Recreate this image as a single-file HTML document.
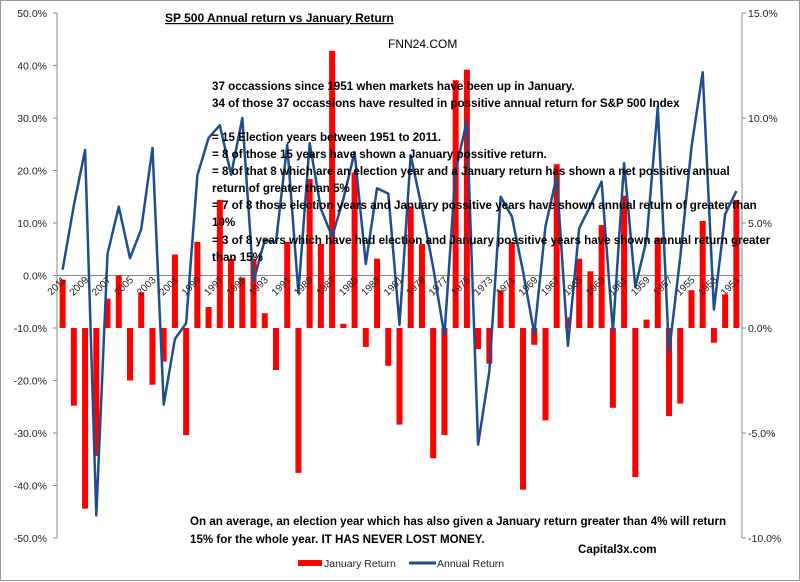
<!DOCTYPE html>
<html><head><meta charset="utf-8"><style>
html,body{margin:0;padding:0;background:#fff;}
svg{display:block;font-family:"Liberation Sans",sans-serif;}
.b{font-weight:bold;font-size:11.6px;fill:#000;}
.t{font-size:10.5px;fill:#222;}
</style></head><body>
<svg id="chart" width="800" height="582" viewBox="0 0 800 582">
<rect x="0.5" y="0.5" width="799" height="580" fill="#fff" stroke="#999"/>
<g id="grid"></g>
<g id="bars"></g>
<g id="line"></g>
<g id="axes"></g>
<text x="165" y="22" class="b" style="font-size:12px;text-decoration:underline">SP 500 Annual return vs January Return</text>
<text x="388" y="48" style="font-size:12px">FNN24.COM</text>
<g class="b">
<text x="212" y="90">37 occassions since 1951 when markets have been up in January.</text>
<text x="212" y="107">34 of those 37 occassions have resulted in possitive annual return for S&amp;P 500 Index</text>
<text x="212" y="141">= 15 Election years between 1951 to 2011.</text>
<text x="212" y="158">= 8 of those 15 years have shown a January possitive return.</text>
<text x="212" y="175">= 8 of that 8 which are an election year and a January return has shown a net possitive annual</text>
<text x="212" y="192">return of greater than 5%</text>
<text x="212" y="209">= 7 of 8 those election years and January possitive years have shown annual return of greater than</text>
<text x="212" y="226">10%</text>
<text x="212" y="244">= 3 of 8 years which have had election and January possitive years have shown annual return greater</text>
<text x="212" y="261">than 15%</text>
</g>
<g class="b">
<text x="190" y="525">On an average, an election year which has also given a January return greater than 4% will return</text>
<text x="190" y="543">15% for the whole year. IT HAS NEVER LOST MONEY.</text>
</g>
<text x="578" y="553" class="b">Capital3x.com</text>
<g>
<rect x="298" y="560" width="24" height="6" fill="#ff0000"/>
<text x="324" y="567" class="t">January Return</text>
<line x1="409" y1="563" x2="436" y2="563" stroke="#1f4e8c" stroke-width="3"/>
<text x="437" y="567" class="t">Annual Return</text>
</g>
</svg>
<script>
const years = [2011,2010,2009,2008,2007,2006,2005,2004,2003,2002,2001,2000,1999,1998,1997,1996,1995,1994,1993,1992,1991,1990,1989,1988,1987,1986,1985,1984,1983,1982,1981,1980,1979,1978,1977,1976,1975,1974,1973,1972,1971,1970,1969,1968,1967,1966,1965,1964,1963,1962,1961,1960,1959,1958,1957,1956,1955,1954,1953,1952,1951];
const januaryReturn = [2.3,-3.7,-8.6,-6.1,1.4,2.5,-2.5,1.7,-2.7,-1.6,3.5,-5.1,4.1,1.0,6.1,3.3,2.4,3.3,0.7,-2.0,4.1,-6.9,7.1,4.0,13.2,0.2,7.4,-0.9,3.3,-1.8,-4.6,5.8,4.0,-6.2,-5.1,11.8,12.3,-1.0,-1.7,1.8,4.1,-7.7,-0.8,-4.4,7.8,0.5,3.3,2.7,4.9,-3.8,6.3,-7.1,0.4,4.3,-4.2,-3.6,1.8,5.1,-0.7,1.6,6.1];
const annualReturn = [1.1,13.3,23.9,-45.7,4.1,13.1,3.3,8.8,24.3,-24.6,-12.1,-9.1,19.1,26.2,28.6,19.2,30.0,-1.1,6.7,6.4,24.9,-3.3,25.2,12.7,7.4,14.6,23.5,2.2,16.6,15.6,-9.4,22.9,12.7,1.5,-11.4,19.9,29.5,-32.2,-18.3,15.0,11.3,0.8,-11.1,9.4,18.9,-13.4,9.0,13.3,17.9,-10.7,21.4,-2.2,6.7,32.1,-14.7,3.4,24.5,38.7,-6.5,11.7,16.1];
const leftTicks = [50,40,30,20,10,0,-10,-20,-30,-40,-50];
const rightTicks = [15,10,5,0,-5,-10];

const NS="http://www.w3.org/2000/svg";
const X0=57, X1=742, TOP=13, BOT=538;
const step=(X1-X0)/years.length;
function xC(i){return X0+step*(i+0.5);}
function yL(v){return TOP+(50-v)/100*(BOT-TOP);}
function yR(v){return TOP+(15-v)/25*(BOT-TOP);}
function mk(tag,attrs,parent){const e=document.createElementNS(NS,tag);for(const k in attrs)e.setAttribute(k,attrs[k]);parent.appendChild(e);return e;}
const grid=document.getElementById('grid'),bars=document.getElementById('bars'),lineG=document.getElementById('line'),axes=document.getElementById('axes');

let a=mk('line',{x1:X0,y1:TOP,x2:X0,y2:BOT,stroke:'#888'},axes);


a=mk('line',{x1:X1,y1:TOP,x2:X1,y2:BOT,stroke:'#888'},axes);


a=mk('line',{x1:X0,y1:yL(0),x2:X1,y2:yL(0),stroke:'#888'},grid);


leftTicks.forEach(v=>{
  const y=yL(v);
  mk('line',{x1:X0-4,y1:y,x2:X0,y2:y,stroke:'#888'},axes);
  const t=mk('text',{x:X0-10,y:y+4,'text-anchor':'end',class:'t'},axes);
  t.textContent=v.toFixed(1)+'%';
  
  
});
rightTicks.forEach(v=>{
  const y=yR(v);
  mk('line',{x1:X1,y1:y,x2:X1+4,y2:y,stroke:'#888'},axes);
  const t=mk('text',{x:X1+6,y:y+4,class:'t'},axes);
  t.textContent=v.toFixed(1)+'%';
  
  
});
years.forEach((yr,i)=>{
  const v=januaryReturn[i];
  const y0=yR(0), y1=yR(v);
  const r=mk('rect',{x:xC(i)-3,y:Math.min(y0,y1),width:6,height:Math.abs(y1-y0),fill:'#ff0000'},bars);
  
  
  if(i%2===0){
    const x=xC(i)+4,y=yL(0)+5;
    const t=mk('text',{x:x,y:y,'text-anchor':'end',transform:'rotate(-45 '+x+' '+y+')',class:'t',style:'font-size:10px'},axes);
    t.textContent=yr;
    
    
  }
});
const pts=annualReturn.map((v,i)=>xC(i).toFixed(1)+','+yL(v).toFixed(1)).join(' ');
const pl=mk('polyline',{points:pts,fill:'none',stroke:'#1f4e8c','stroke-width':2.5,'stroke-linejoin':'round'},lineG);


</script>
</body></html>
